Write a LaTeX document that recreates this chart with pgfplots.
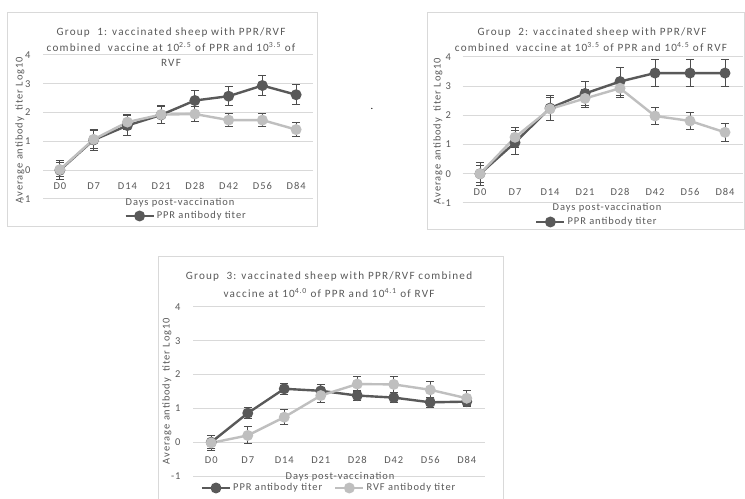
\documentclass[border=0pt]{standalone}
\usepackage{pgfplots}
\pgfplotsset{compat=1.18}
\usepackage{fontspec}
\setmainfont{Carlito}
\newfontfamily\lsfont[LetterSpace=9]{Carlito}
\newfontfamily\tsfont[LetterSpace=11]{Carlito}
\definecolor{pprc}{HTML}{595959}
\definecolor{rvfc}{HTML}{BFBFBF}
\definecolor{errc}{HTML}{4D4D4D}
\definecolor{gridc}{HTML}{D9D9D9}
\definecolor{txt}{HTML}{595959}
\newcommand{\fs}{\lsfont\fontsize{10.5}{12}\selectfont}
\newcommand{\ts}{\tsfont\fontsize{11.2}{13}\selectfont}

\pgfplotsset{
 panel/.style={scale only axis, anchor=south west,
  xmin=-0.5, xmax=7.5, ymin=-1, ymax=4,
  xtick={0,...,7}, xticklabels={D0,D7,D14,D21,D28,D42,D56,D84},
  ytick={-1,0,...,4}, yticklabels={-1,0,1,2,3,4},
  axis x line=middle, axis y line=left, axis line style={draw=none},
  major tick length=0pt, hide obscured x ticks=false, hide obscured y ticks=false,
  ymajorgrids, grid style={gridc, line width=1bp},
  tick label style={font=\fs, text=txt},
  clip=false,
  legend style={draw=none, fill=none, font=\fs, text=txt, anchor=center,
    legend columns=-1, /tikz/every even column/.append style={column sep=10bp}},
  legend image code/.code={\draw[mark repeat=2,mark phase=2,#1]
    plot coordinates {(0bp,0bp) (14bp,0bp) (28bp,0bp)};},
 },
 errs/.style={error bars/y dir=both, error bars/y explicit,
  error bars/error bar style={line width=1bp, errc},
  error bars/error mark options={rotate=90, mark size=4bp, line width=1bp, errc}},
 pprline/.style={color=pprc, line width=2.4bp, mark=*, mark size=4.2bp,
  mark options={solid, fill=pprc}, errs},
 rvfline/.style={color=rvfc, line width=2.4bp, mark=*, mark size=4.2bp,
  mark options={solid, fill=rvfc}, errs},
}

\begin{document}
\begin{tikzpicture}
\useasboundingbox (0,0) rectangle (745bp,499bp);
\fill[white] (0,0) rectangle (745bp,499bp);
\clip (0,0) rectangle (745bp,499bp);

% frames
\draw[gridc, line width=1bp] (7bp,272bp) rectangle (317bp,486bp);
\draw[gridc, line width=1bp] (427bp,269bp) rectangle (744.5bp,486bp);
\draw[gridc, line width=1bp] (158bp,-5bp) rectangle (503bp,242bp);

% Group 1
\begin{axis}[panel, at={(43bp,300bp)}, width=270bp, height=144bp,
  xticklabel style={yshift=-9bp}, yticklabel style={xshift=-9bp},
  legend style={at={(0.53,-0.118)}}]
\addplot[pprline] coordinates {
 (0,0) +- (0,0.32) (1,1.05) +- (0,0.35) (2,1.55) +- (0,0.35) (3,1.92) +- (0,0.3)
 (4,2.42) +- (0,0.36) (5,2.57) +- (0,0.34) (6,2.94) +- (0,0.36) (7,2.62) +- (0,0.34)};
\addlegendentry{PPR antibody titer}
\addplot[rvfline, forget plot] coordinates {
 (0,0.02) +- (0,0.25) (1,1.07) +- (0,0.3) (2,1.67) +- (0,0.25) (3,1.93) +- (0,0.3)
 (4,1.95) +- (0,0.25) (5,1.74) +- (0,0.24) (6,1.74) +- (0,0.24) (7,1.41) +- (0,0.23)};
\end{axis}

% Group 2
\begin{axis}[panel, at={(462.5bp,296bp)}, width=280bp, height=146bp,
  xticklabel style={yshift=-11bp}, yticklabel style={xshift=-8bp},
  legend style={at={(0.48,-0.13)}}]
\addplot[pprline] coordinates {
 (0,0) +- (0,0.4) (1,1.07) +- (0,0.42) (2,2.25) +- (0,0.42) (3,2.75) +- (0,0.4)
 (4,3.16) +- (0,0.47) (5,3.45) +- (0,0.46) (6,3.45) +- (0,0.46) (7,3.45) +- (0,0.46)};
\addlegendentry{PPR antibody titer}
\addplot[rvfline, forget plot] coordinates {
 (0,0) +- (0,0.3) (1,1.25) +- (0,0.35) (2,2.22) +- (0,0.4) (3,2.58) +- (0,0.3)
 (4,2.93) +- (0,0.3) (5,1.98) +- (0,0.29) (6,1.81) +- (0,0.3) (7,1.42) +- (0,0.3)};
\end{axis}

% Group 3
\begin{axis}[panel, at={(193bp,23bp)}, width=292bp, height=169bp,
  xticklabel style={yshift=-11bp}, yticklabel style={xshift=-9bp},
  legend style={at={(0.466,-0.071)}}]
\addplot[pprline] coordinates {
 (0,0) +- (0,0.2) (1,0.86) +- (0,0.17) (2,1.58) +- (0,0.17) (3,1.52) +- (0,0.18)
 (4,1.38) +- (0,0.15) (5,1.32) +- (0,0.15) (6,1.18) +- (0,0.15) (7,1.2) +- (0,0.12)};
\addlegendentry{PPR antibody titer}
\addplot[rvfline] coordinates {
 (0,-0.02) +- (0,0.22) (1,0.2) +- (0,0.25) (2,0.74) +- (0,0.23) (3,1.38) +- (0,0.22)
 (4,1.72) +- (0,0.22) (5,1.71) +- (0,0.24) (6,1.55) +- (0,0.24) (7,1.3) +- (0,0.24)};
\addlegendentry{RVF antibody titer}
\end{axis}

% titles
\begin{scope}[every node/.style={font=\ts, text=txt, inner sep=0pt}]
\node at (171bp,466bp) {Group\ \ 1: vaccinated\ sheep\ with\ PPR/RVF};
\node at (171bp,452bp) {combined\ \ vaccine at 10\textsuperscript{2.5} of PPR and 10\textsuperscript{3.5} of};
\node at (171bp,436bp) {RVF};
\node at (592bp,466bp) {Group\ \ 2: vaccinated\ sheep\ with\ PPR/RVF};
\node at (591bp,452bp) {combined\ \ vaccine at 10\textsuperscript{3.5} of PPR and 10\textsuperscript{4.5} of RVF};
\node at (329bp,222bp) {Group\ \ 3: vaccinated sheep with PPR/RVF combined};
\node at (329bp,206bp) {vaccine at 10\textsuperscript{4.0} of PPR and 10\textsuperscript{4.1} of RVF};
\end{scope}
\begin{scope}[every node/.style={font=\fs, text=txt, inner sep=0pt}]
% axis titles
\node at (180bp,296bp) {Days post-vaccination};
\node at (607bp,291bp) {Days post-vaccination};
\node at (340bp,22bp) {Days post-vaccination};
\node[rotate=90] at (20bp,369bp) {Average antibody\ \ titer Log10};
\node[rotate=90] at (438bp,368bp) {Average antibody\ \ titer Log10};
\node[rotate=90] at (167bp,108bp) {Average antibody\ \ titer Log10};
\node[text=black] at (372bp,390bp) {.};
\end{scope}
\end{tikzpicture}
\end{document}
